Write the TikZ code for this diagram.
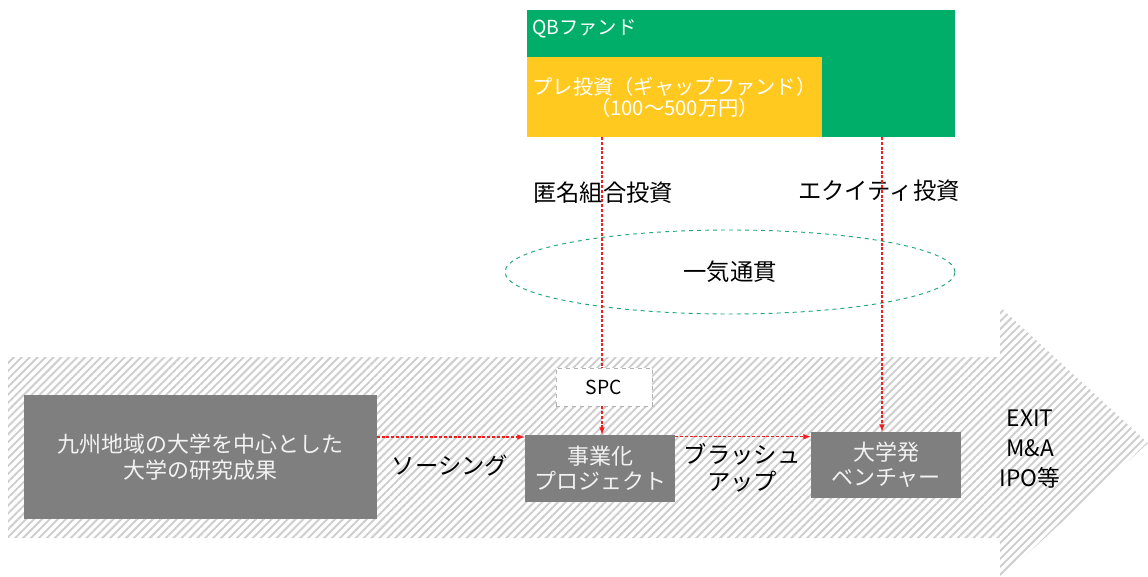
\documentclass[tikz,border=0pt]{standalone}
\usepackage{fontspec}
\setmainfont{Noto Sans CJK JP}
\usetikzlibrary{arrows,positioning,shapes.geometric,patterns.meta}
\definecolor{qbgreen}{HTML}{00AD69}
\definecolor{preyellow}{HTML}{FFC91F}
\definecolor{boxgray}{HTML}{7F7F7F}
\definecolor{hatchgray}{HTML}{CFCFCF}
\definecolor{flowred}{HTML}{F01E1E}
\definecolor{ovalgreen}{HTML}{1FA67A}

\begin{document}
\begin{tikzpicture}[x=0.75pt, y=-0.75pt,
    box/.style={fill=boxgray, text=white!95!black, align=center, inner sep=0pt,
        font=\fontsize{16.5}{19}\selectfont},
    lbl/.style={align=center, inner sep=0pt, font=\fontsize{17.5}{20}\selectfont},
    flow/.style={->, >=latex, draw=flowred, line width=0.9pt, dash pattern=on 2.2pt off 1.4pt}]
    \useasboundingbox (0,0) rectangle (1148,577);
    \fill[pattern={Lines[angle=45,distance=4.2pt,line width=1.5pt]}, pattern color=hatchgray]
        (8,357) -- (1000,357) -- (1000,307) -- (1148,443) -- (1000,579) -- (1000,538) -- (8,538) -- cycle;
    \node[fill=qbgreen, minimum width=321pt, minimum height=95.25pt, inner sep=0pt] (qb) at (741,73.5) {};
    \node[fill=preyellow, minimum width=221.25pt, minimum height=60pt, inner sep=0pt, text=white,
        align=center, font=\fontsize{15.2}{16}\selectfont] (pre) at (674.5,97)
        {プレ投資（ギャップファンド）\\（100〜500万円）};
    \node[anchor=west, text=white, inner sep=0pt, font=\fontsize{14.5}{16}\selectfont] (qbname) at (532,29) {QBファンド};
    \node[box, minimum width=264.75pt, minimum height=93pt] (res) at (200,457) {九州地域の大学を中心とした\\大学の研究成果};
    \node[box, minimum width=112.5pt, minimum height=50.25pt] (proj) at (600,468.5) {事業化\\プロジェクト};
    \node[box, minimum width=112.5pt, minimum height=49.5pt] (ven) at (886,465) {大学発\\ベンチャー};
    \node[fill=white, draw=gray!60, dashed, minimum width=72pt, minimum height=28.5pt, inner sep=0pt,
        font=\fontsize{14.5}{16}\selectfont] (spc) at (604,387) {SPC};
    \node[ellipse, draw=ovalgreen, dashed, line width=0.7pt, minimum width=337.5pt, minimum height=63pt,
        inner sep=0pt, font=\fontsize{17.5}{20}\selectfont] (oval) at (730,272) {一気通貫};
    \node[lbl] (tok) at (603,193) {匿名組合投資};
    \node[lbl] (eq) at (879,191) {エクイティ投資};
    \node[lbl] (src) at (450,466) {ソーシング};
    \node[lbl, font=\fontsize{17.5}{20.5}\selectfont] (bru) at (742,468) {ブラッシュ\\アップ};
    \node[lbl, font=\fontsize{17}{22.5}\selectfont] (exit) at (1030,449) {EXIT\\M\&A\\IPO等};
    \coordinate (c1) at (602,137);
    \coordinate (c2) at (882,137);
    \draw[flow, -] (c1) -- (c1 |- spc.north);
    \draw[flow] (spc.south -| c1) -- (proj.north -| c1);
    \draw[flow] (c2) -- (c2 |- ven.north);
    \draw[flow] ([yshift=15pt]res.east) -- ([yshift=15pt]res.east -| proj.west);
    \draw[flow] ([yshift=-1.5pt]proj.north east) -- ([yshift=-1.5pt]proj.north east -| ven.west);
\end{tikzpicture}
\end{document}
